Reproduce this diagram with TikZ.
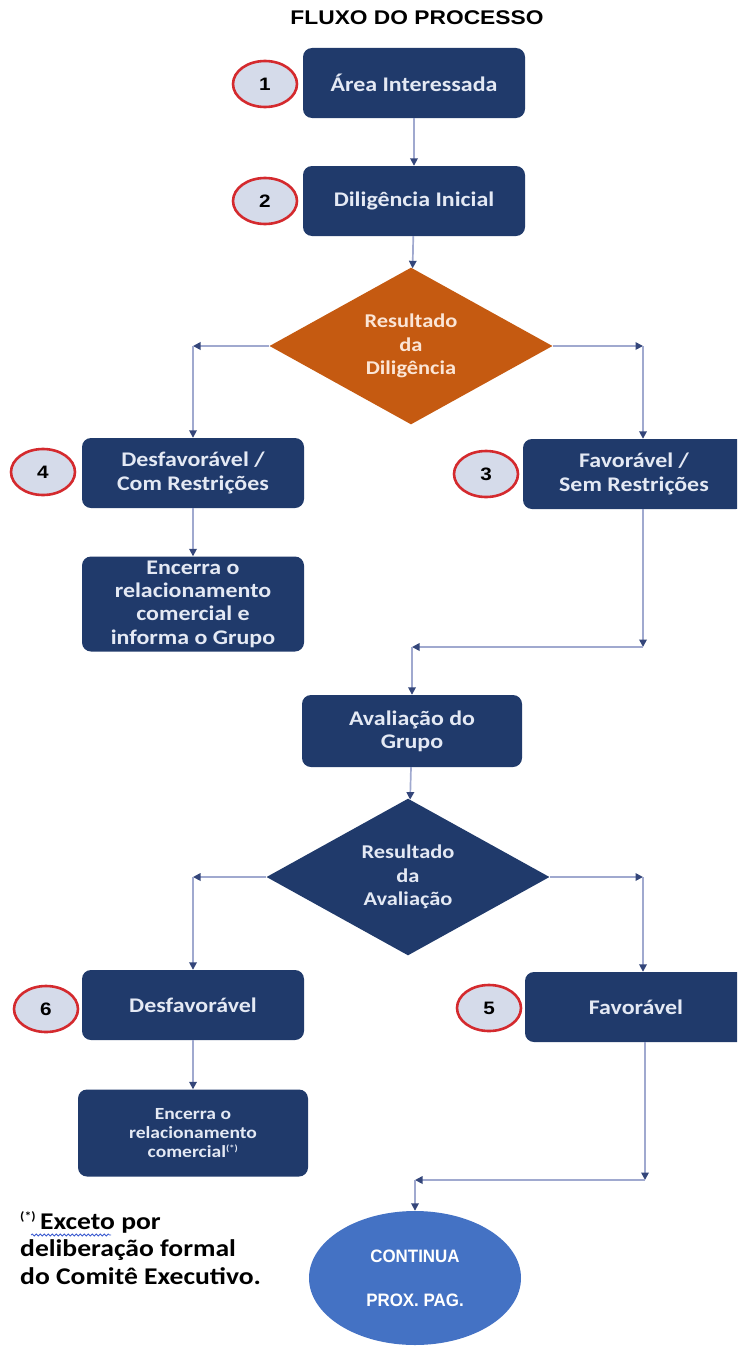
\documentclass[tikz,border=0pt]{standalone}
\usepackage{fontspec}
\setmainfont{Carlito}[FakeStretch=1.15]
\newfontfamily\titlefont{Liberation Sans}[FakeStretch=1.15]
\newfontfamily\narrowfont{Liberation Sans}[FakeStretch=0.94]
\usetikzlibrary{arrows.meta,shapes.geometric,positioning,decorations.pathmorphing}

\definecolor{navy}{HTML}{203A6B}
\definecolor{orangeD}{HTML}{C55A11}
\definecolor{cream}{HTML}{FBE5D6}
\definecolor{boxtext}{HTML}{E4E9F4}
\definecolor{flowline}{HTML}{A0A9CF}
\definecolor{tipblue}{HTML}{34467A}
\definecolor{numred}{HTML}{D42A2E}
\definecolor{numfill}{HTML}{D5DBEA}
\definecolor{contblue}{HTML}{4472C4}
\definecolor{wavyblue}{HTML}{3A5BD0}

\begin{document}
\begin{tikzpicture}[x=1pt,y=-1pt,->,>={Triangle[length=7.5pt,width=7.5pt,color=tipblue]},
	every edge/.style={draw=flowline,line width=1.7pt},
	box/.style={rectangle,rounded corners=9pt,fill=navy,text=boxtext,align=center,
		font=\fontsize{20.8}{23.3}\selectfont\bfseries,minimum width=222pt,minimum height=70pt},
	num/.style={ellipse,draw=numred,line width=2.6pt,fill=numfill,minimum width=64pt,
		minimum height=46pt,font=\titlefont\fontsize{18}{20}\selectfont\bfseries},
	decision/.style={diamond,minimum width=283pt,minimum height=121pt,inner sep=0pt,align=center,
		font=\fontsize{19.5}{23.5}\selectfont\bfseries}]
	\clip (0,0) rectangle (737,1346);
	\node[font=\titlefont\fontsize{19.8}{22}\selectfont\bfseries](title) at (417,18){FLUXO DO PROCESSO};
	
	\node[box](area) at (414,83){Área Interessada};
	\node[num](n1) at (265,84){1};
	\node[box](dil) at (414,201){Diligência Inicial};
	\node[num](n2) at (265,201){2};
	\node[decision,fill=orangeD,text=cream](res1) at (411,346){Resultado\\da\\Diligência};
	
	\node[box](desf1) at (193,473){Desfavorável /\\Com Restrições};
	\node[num](n4) at (43,472){4};
	\node[box](fav1) at (634,474){Favorável /\\Sem Restrições};
	\node[num](n3) at (486,474){3};
	\node[box,minimum height=95pt](enc1) at (193,604){Encerra o\\relacionamento\\comercial e\\informa o Grupo};
	\coordinate(l1) at (desf1 |- res1);
	\coordinate(r1) at (643,346);
	\coordinate(j1) at (643,647);
	
	\node[box,minimum width=220pt,minimum height=72pt](aval) at (412,731){Avaliação do\\Grupo};
	\coordinate(j2) at (aval |- j1);
	\node[decision,fill=navy,text=boxtext](res2) at (408,877){Resultado\\da\\Avaliação};
	
	\node[box](desf2) at (193,1005){Desfavorável};
	\node[num](n6) at (46,1009){6};
	\node[box](fav2) at (636,1007){Favorável};
	\node[num](n5) at (489,1008){5};
	\node[box,minimum width=230pt,minimum height=87pt,
		font=\fontsize{17}{19}\selectfont\bfseries](enc2) at (193,1133){Encerra o\\relacionamento\\comercial\textsuperscript{\fontsize{9}{9}\selectfont(*)}};
	\coordinate(l2) at (desf2 |- res2);
	\coordinate(r2) at (643,877);
	\coordinate(j3) at (645,1180);
	
	\node[ellipse,fill=contblue,text=white,minimum width=212pt,minimum height=134pt,align=center,
		font=\narrowfont\fontsize{18}{20}\selectfont\bfseries](cont) at (415,1278){CONTINUA\\[24pt]PROX. PAG.};
	\coordinate(j4) at (cont |- j3);
	\node[anchor=north west,align=left,inner sep=0pt,
		font=\fontsize{24}{27.5}\selectfont\bfseries](nota) at (20,1211)
		{\textsuperscript{\fontsize{12}{12}\selectfont(*)}\,Exceto por\\deliberação formal\\do Comitê Executivo.};
	% sublinhado ondulado sob "Exceto"
	\draw[-,wavyblue,line width=0.8pt,decorate,decoration={snake,amplitude=1pt,segment length=4pt}]
		([shift={(11,24)}]nota.north west) -- ++(80,0);
	
	\path (area) edge (dil)
		  (dil) edge (res1)
		  (res1) edge (l1)
		  (res1) edge (r1)
		  (l1) edge (desf1)
		  (r1) edge (r1 |- fav1.north)
		  (desf1) edge (enc1)
		  (fav1.south -| j1) edge (j1)
		  (j1) edge (j2)
		  (j2) edge (aval)
		  (aval) edge (res2)
		  (res2) edge (l2)
		  (res2) edge (r2)
		  (l2) edge (desf2)
		  (r2) edge (r2 |- fav2.north)
		  (desf2) edge (enc2)
		  (fav2.south -| j3) edge (j3)
		  (j3) edge (j4)
		  (j4) edge (cont);
\end{tikzpicture}
\end{document}
